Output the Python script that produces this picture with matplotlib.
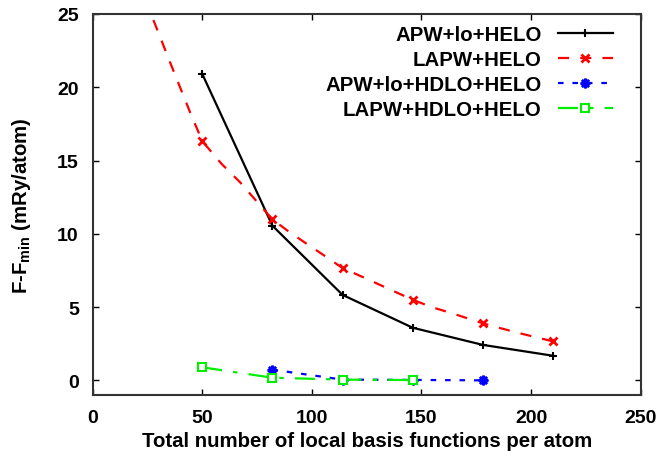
import matplotlib
matplotlib.use('Agg')
import matplotlib.pyplot as plt

plt.rcParams['font.family'] = ['Liberation Sans', 'DejaVu Sans']
plt.rcParams['font.weight'] = 'bold'
plt.rcParams['mathtext.fontset'] = 'custom'
plt.rcParams['mathtext.rm'] = 'Liberation Sans:bold'
plt.rcParams['mathtext.it'] = 'Liberation Sans:bold'
plt.rcParams['mathtext.bf'] = 'Liberation Sans:bold'
plt.rcParams['mathtext.default'] = 'regular'

# basis sizes (local basis functions per atom)
x_all = [50, 82, 114, 146, 178, 210]
x_hdlo = [82, 114, 146, 178]
x_hdlo_l = [50, 82, 114, 146]

apw_lo = [20.9, 10.55, 5.83, 3.59, 2.42, 1.68]
lapw = [16.32, 10.98, 7.66, 5.50, 3.89, 2.66]
apw_hdlo = [0.73, 0.05, 0.03, 0.0]
lapw_hdlo = [0.89, 0.18, 0.05, 0.02]

# dashed red curve
lapw_curve_x = [24, 26.6, 35.3, 44.4, 50, 58.8, 67.2, 82, 89.2, 97.6, 106.7,
                114, 125, 134.9, 146, 154.6, 164.5, 178, 185.8, 195.7, 210]
lapw_curve_y = [26.0, 25.0, 21.7, 18.3, 16.32, 14.77, 13.52, 10.98, 10.18,
                9.32, 8.41, 7.66, 6.93, 6.25, 5.50, 5.0, 4.55, 3.89, 3.57,
                3.18, 2.66]

fig = plt.figure(figsize=(6.59, 4.60), dpi=100)
ax = fig.add_axes([0.1407, 0.1391, 0.8315, 0.8283])

ax.plot(x_all, apw_lo, color='black', lw=1.6, marker='+', ms=6, mew=1.5,
        label='APW+lo+HELO')
ax.plot(lapw_curve_x, lapw_curve_y, color='#ff0000', lw=1.6,
        dashes=(5, 5))
ax.plot(x_all, lapw, ls='none', color='#ff0000', marker='x', ms=6, mew=2)
ax.plot([], [], color='#ff0000', lw=1.6, dashes=(5, 5), marker='x', ms=6,
        mew=2, label='LAPW+HELO')
ax.plot(x_hdlo, apw_hdlo, color='#0000ff', lw=1.6, dashes=(2.5, 4),
        marker=(8, 2, 0), ms=7, mew=1.8, label='APW+lo+HDLO+HELO')
ax.plot(x_hdlo_l, lapw_hdlo, color='#00ee00', lw=1.6,
        dashes=(9, 5, 2, 5), marker='s', ms=6, mew=1.5, mfc='white',
        label='LAPW+HDLO+HELO')

ax.set_xlim(0, 250)
ax.set_ylim(-1, 25)
ax.set_xticks([0, 50, 100, 150, 200, 250])
ax.set_yticks([0, 5, 10, 15, 20, 25])
ax.tick_params(direction='in', length=4, width=1, top=True, right=True,
               labelsize=14, colors='black')
ax.tick_params(axis='y', pad=10)
ax.tick_params(axis='x', pad=10)
for s in ax.spines.values():
    s.set_linewidth(1.5)
    s.set_color('#333333')

ax.set_xlabel('Total number of local basis functions per atom',
              fontsize=14.7, fontweight='bold', labelpad=4)
ax.set_ylabel(r'F-F$_{min}$ (mRy/atom)', fontsize=14.7, fontweight='bold',
              labelpad=17)

ax.legend(loc='upper right', bbox_to_anchor=(0.968, 0.998), frameon=False,
          markerfirst=False, numpoints=1, fontsize=14.7, handlelength=2.7,
          handletextpad=0.8, labelspacing=0.3, borderaxespad=0.1)

fig.savefig('out.png', dpi=100)
